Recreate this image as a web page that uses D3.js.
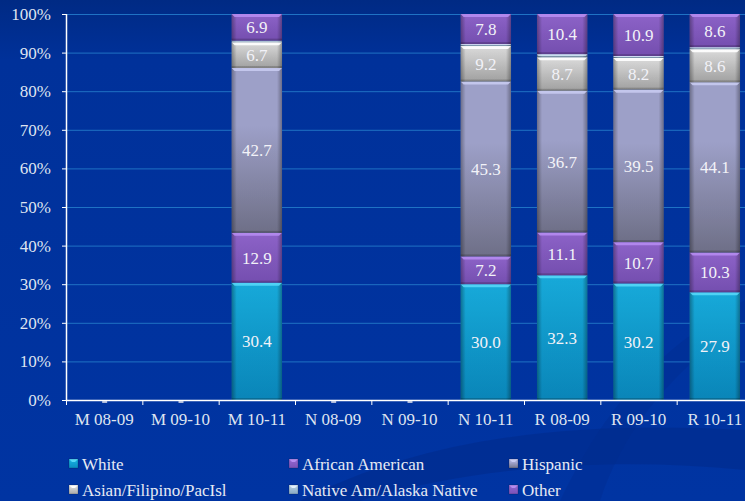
<!DOCTYPE html>
<html>
<head>
<meta charset="utf-8">
<script src="https://cdn.jsdelivr.net/npm/d3@7"></script>
<style>
  body { margin: 0; background: #0033a0; }
  svg { display: block; }
</style>
</head>
<body>
<script>
  // categories and series
  var categories = ["M 08-09", "M 09-10", "M 10-11", "N 08-09", "N 09-10", "N 10-11", "R 08-09", "R 09-10", "R 10-11"];
  var seriesNames = ["White", "African American", "Hispanic", "Asian/Filipino/PacIsl", "Native Am/Alaska Native", "Other"];

  var white           = [0, 0, 30.4, 0, 0, 30.0, 32.3, 30.2, 27.9];
  var africanAmerican = [0, 0, 12.9, 0, 0, 7.2, 11.1, 10.7, 10.3];
  var hispanic        = [0, 0, 42.7, 0, 0, 45.3, 36.7, 39.5, 44.1];
  var asian           = [0, 0, 6.7, 0, 0, 9.2, 8.7, 8.2, 8.6];
  var nativeAm        = [0, 0, 0.4, 0, 0, 0.5, 0.8, 0.5, 0.5];
  var other           = [0, 0, 6.9, 0, 0, 7.8, 10.4, 10.9, 8.6];

  var yTicks = [0, 10, 20, 30, 40, 50, 60, 70, 80, 90, 100];

  var allValues = [white, africanAmerican, hispanic, asian, nativeAm, other];

  // colours: [top, bottom, highlight]
  var colors = [
    ["#18b2e4", "#0a8cc2", "#55d6f7"],
    ["#9468d2", "#7a52b8", "#b58cf0"],
    ["#a5a8d2", "#74758e", "#c8caf0"],
    ["#e6e6e6", "#a9a9a9", "#ffffff"],
    ["#b9d3e6", "#87a8c4", "#e0f0ff"],
    ["#9468d2", "#7a52b8", "#b58cf0"]
  ];

  var FONT = "'Liberation Serif'";

  var width = 745, height = 501;
  var margin = { left: 66, top: 14 };
  var plotW = 687, plotH = 386;

  var svg = d3.select("body").append("svg")
    .attr("width", width)
    .attr("height", height);

  var defs = svg.append("defs");

  var bg = defs.append("linearGradient").attr("id", "bg")
    .attr("x1", 0).attr("y1", 0).attr("x2", 0).attr("y2", 1);
  bg.append("stop").attr("offset", 0).attr("stop-color", "#002a84");
  bg.append("stop").attr("offset", 0.12).attr("stop-color", "#00319a");
  bg.append("stop").attr("offset", 1).attr("stop-color", "#0034a2");

  colors.forEach(function(c, i) {
    var g = defs.append("linearGradient").attr("id", "fill" + i)
      .attr("x1", 0).attr("y1", 0).attr("x2", 0).attr("y2", 1);
    g.append("stop").attr("offset", 0).attr("stop-color", c[0]);
    g.append("stop").attr("offset", i == 2 ? 0.35 : 0).attr("stop-color", c[0]);
    g.append("stop").attr("offset", 1).attr("stop-color", c[1]);
  });

  var side = defs.append("linearGradient").attr("id", "side")
    .attr("x1", 0).attr("y1", 0).attr("x2", 1).attr("y2", 0);
  side.append("stop").attr("offset", 0).attr("stop-color", "#000").attr("stop-opacity", 0.35);
  side.append("stop").attr("offset", 0.1).attr("stop-color", "#000").attr("stop-opacity", 0.05);
  side.append("stop").attr("offset", 0.9).attr("stop-color", "#000").attr("stop-opacity", 0.05);
  side.append("stop").attr("offset", 1).attr("stop-color", "#000").attr("stop-opacity", 0.35);

  svg.append("rect").attr("width", width).attr("height", height).attr("fill", "url(#bg)");

  // faint swoosh in the background
  svg.append("path")
    .attr("d", "M300,501 C420,440 560,420 745,430 L745,470 C600,455 460,470 360,501 Z")
    .attr("fill", "#002c8c").attr("opacity", 0.6);
  svg.append("path")
    .attr("d", "M560,501 C600,420 640,360 745,300 L745,320 C660,380 620,440 600,501 Z")
    .attr("fill", "#002c8c").attr("opacity", 0.35);

  var x = d3.scaleBand().domain(categories).range([margin.left, margin.left + plotW]).paddingInner(0.34).paddingOuter(0.17);
  var xb = d3.scaleBand().domain(categories).range([margin.left, margin.left + plotW]);
  var y = d3.scaleLinear().domain([0, 100]).range([margin.top + plotH, margin.top]);

  // grid
  svg.append("g").selectAll("line").data(yTicks.slice(1)).join("line")
    .attr("x1", margin.left).attr("x2", margin.left + plotW)
    .attr("y1", function(d) { return y(d) + 0.5; }).attr("y2", function(d) { return y(d) + 0.5; })
    .attr("stroke", "#1f72c4").attr("stroke-width", 1);

  // stacked data
  var table = categories.map(function(c, i) {
    var row = { cat: c };
    seriesNames.forEach(function(s, j) { row[s] = allValues[j][i]; });
    return row;
  });
  var stacked = d3.stack().keys(seriesNames)(table);

  var bars = svg.append("g");
  stacked.forEach(function(layer, si) {
    layer.forEach(function(d) {
      var v = d[1] - d[0];
      if (v <= 0) return;
      var bx = x(d.data.cat), bw = x.bandwidth();
      var y0 = y(d[0]), y1 = y(d[1]);
      var h = y0 - y1;
      bars.append("rect").attr("x", bx).attr("y", y1).attr("width", bw).attr("height", h)
        .attr("fill", "url(#fill" + si + ")");
      bars.append("rect").attr("x", bx).attr("y", y1).attr("width", bw).attr("height", h)
        .attr("fill", "url(#side)");
      // top bevel
      var bev = Math.min(3, h / 2);
      bars.append("path")
        .attr("d", "M" + bx + "," + y1 + "h" + bw + "l-" + bev + "," + bev + "h-" + (bw - 2 * bev) + "z")
        .attr("fill", colors[si][2]).attr("opacity", 0.9);
      // bottom shade
      bars.append("rect").attr("x", bx).attr("y", y0 - Math.min(2, h / 3)).attr("width", bw).attr("height", Math.min(2, h / 3))
        .attr("fill", "#000").attr("opacity", 0.18);
      if (v >= 5) {
        bars.append("text")
          .attr("x", bx + bw / 2).attr("y", (y0 + y1) / 2)
          .attr("dy", "0.35em")
          .attr("text-anchor", "middle")
          .style("font-family", FONT).style("font-size", "17px")
          .attr("fill", "#f2f2f8")
          .text(d3.format(".1f")(v));
      }
    });
  });

  // zero dashes for empty categories
  svg.append("g").selectAll("line")
    .data(table.filter(function(r) { return d3.sum(seriesNames, function(s) { return r[s]; }) === 0; }))
    .join("line")
    .attr("x1", function(d) { return x(d.cat) + x.bandwidth() / 2 - 2; })
    .attr("x2", function(d) { return x(d.cat) + x.bandwidth() / 2 + 3; })
    .attr("y1", y(0) + 2).attr("y2", y(0) + 2)
    .attr("stroke", "#e8e8f0").attr("stroke-width", 1.5);

  // y axis
  var yAxis = svg.append("g").attr("transform", "translate(" + margin.left + ",0)")
    .call(d3.axisLeft(y).tickValues(yTicks).tickSize(4).tickPadding(11).tickFormat(function(d) { return d + "%"; }));
  yAxis.select(".domain").attr("stroke", "#fff").attr("stroke-width", 1.5).attr("d", "M0.5," + margin.top + "V" + (margin.top + plotH));
  yAxis.selectAll(".tick line").attr("stroke", "#fff");
  yAxis.selectAll("text").style("font-family", FONT).style("font-size", "17px").attr("fill", "#dfe4f0");

  // x axis
  var xAxis = svg.append("g").attr("transform", "translate(0," + (margin.top + plotH) + ")")
    .call(d3.axisBottom(xb).tickSize(0).tickPadding(13));
  xAxis.select(".domain").attr("stroke", "#fff").attr("stroke-width", 1.5).attr("d", "M" + margin.left + ",0.5H" + (margin.left + plotW));
  xAxis.selectAll("text").style("font-family", FONT).style("font-size", "17px").attr("fill", "#dfe4f0");
  xAxis.append("g").selectAll("line").data(categories).join("line")
    .attr("x1", function(d) { return xb(d) + 0.5; }).attr("x2", function(d) { return xb(d) + 0.5; })
    .attr("y1", 0).attr("y2", 5).attr("stroke", "#fff");

  // legend
  var legend = svg.append("g");
  var legX = [69, 289, 509], legY = [464, 490];
  seriesNames.forEach(function(s, i) {
    var lx = legX[i % 3], ly = legY[Math.floor(i / 3)];
    var g = legend.append("g").attr("transform", "translate(" + lx + "," + ly + ")");
    g.append("rect").attr("x", 0).attr("y", -5).attr("width", 9).attr("height", 9).attr("fill", "url(#fill" + i + ")");
    g.append("path").attr("d", "M0,-5h9l-3,3h-3z").attr("fill", colors[i][2]);
    g.append("rect").attr("x", 0).attr("y", -5).attr("width", 9).attr("height", 9).attr("fill", "none").attr("stroke", "#000").attr("stroke-opacity", 0.3).attr("stroke-width", 0.6);
    g.append("text").attr("x", 13).attr("y", 0).attr("dy", "0.35em")
      .style("font-family", FONT).style("font-size", "17px").attr("fill", "#e6eaf4").text(s);
  });
</script>
</body>
</html>
